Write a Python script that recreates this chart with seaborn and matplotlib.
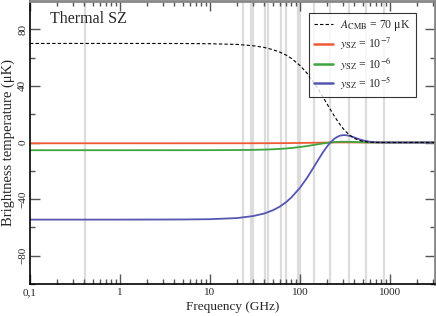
import matplotlib

matplotlib.use("Agg")

import matplotlib.pyplot as plt  # noqa: E402
import pandas as pd  # noqa: E402
import seaborn as sns  # noqa: E402
from matplotlib.lines import Line2D  # noqa: E402
from matplotlib.ticker import FixedLocator, LogLocator, NullFormatter  # noqa: E402

# values (brightness temperature in uK)
FREQ_GHZ = [0.1, 1, 5, 10, 20, 30, 40, 50, 60, 70, 80, 100, 120, 140, 160, 180,
            200, 217, 240, 260, 280, 300, 320, 350, 400, 450, 500, 600, 700, 800,
            1000, 1500, 3162]
CMB_70UK = [70.0, 70.0, 69.95, 69.8, 69.3, 68.4, 67.2, 65.6, 63.8, 61.8, 59.5, 54.4,
            48.9, 43.2, 37.6, 32.2, 27.2, 23.4, 18.8, 15.4, 12.5, 10.0, 8.0, 5.6,
            3.0, 1.6, 0.8, 0.2, 0.05, 0.01, 0.0, 0.0, 0.0]
SZ_1E5 = [-54.5, -54.5, -54.4, -54.2, -53.4, -52.0, -50.2, -47.9, -45.2, -42.2, -38.9,
          -32.0, -24.9, -18.1, -12.1, -6.9, -2.8, -0.1, 2.6, 4.0, 4.9, 5.2, 5.2, 4.8,
          3.6, 2.4, 1.5, 0.5, 0.15, 0.04, 0.0, 0.0, 0.0]
SZ_1E6 = [-5.45, -5.45, -5.44, -5.42, -5.34, -5.20, -5.02, -4.79, -4.52, -4.22, -3.89,
          -3.20, -2.49, -1.81, -1.21, -0.69, -0.28, -0.01, 0.26, 0.40, 0.49, 0.52,
          0.52, 0.48, 0.36, 0.24, 0.15, 0.05, 0.015, 0.004, 0.0, 0.0, 0.0]
SZ_1E7 = [-0.545, -0.545, -0.544, -0.542, -0.534, -0.520, -0.502, -0.479, -0.452,
          -0.422, -0.389, -0.320, -0.249, -0.181, -0.121, -0.069, -0.028, -0.001,
          0.026, 0.040, 0.049, 0.052, 0.052, 0.048, 0.036, 0.024, 0.015, 0.005,
          0.002, 0.0, 0.0, 0.0, 0.0]

SZ_LABELS = [r"$y_{\rm SZ}$ = 10$^{-7}$", r"$y_{\rm SZ}$ = 10$^{-6}$",
             r"$y_{\rm SZ}$ = 10$^{-5}$"]
CMB_LABEL = r"$A_{\rm CMB}$ = 70 μK"
SZ_COLORS = ["#ee5a36", "#3ea43e", "#5656b2"]

SURVEY_FREQS = [0.408, 23, 28.4, 30, 41, 44, 61, 70, 94, 100, 143, 217, 353, 545, 857]
X_TICKS = [0.1, 1, 10, 100, 1000]
X_TICK_LABELS = ["0,1", "1", "10", "100", "1000"]
Y_TICKS = [-80, -40, 0, 40, 80]
Y_MINOR = [-100, -60, -20, 20, 60, 100]

sns.set_style("ticks")
plt.rcParams["font.family"] = ["Liberation Serif", "DejaVu Serif"]
plt.rcParams["mathtext.fontset"] = "stix"

fig = plt.figure(figsize=(4.36, 3.16), dpi=100)
ax = fig.add_axes([30 / 436, 32 / 316, 405 / 436, 283 / 316])

for f in SURVEY_FREQS:
    ax.axvline(f, color="#dcdcdc", lw=1.6, zorder=0)

sz = pd.DataFrame({
    "freq": FREQ_GHZ * 3,
    "temp": SZ_1E7 + SZ_1E6 + SZ_1E5,
    "label": [lab for lab in SZ_LABELS for _ in FREQ_GHZ],
})
sns.lineplot(data=sz, x="freq", y="temp", hue="label", hue_order=SZ_LABELS,
             palette=SZ_COLORS, lw=1.3, legend=False, ax=ax)
sns.lineplot(x=FREQ_GHZ, y=CMB_70UK, color="black", lw=0.8,
             linestyle=(0, (3, 2)), ax=ax)

ax.set_xscale("log")
ax.set_xlim(0.1, 10 ** 3.5)
ax.set_ylim(-100, 100)

ax.xaxis.set_major_locator(FixedLocator(X_TICKS))
ax.set_xticklabels(X_TICK_LABELS)
ax.xaxis.set_minor_locator(LogLocator(base=10, subs=range(2, 10)))
ax.xaxis.set_minor_formatter(NullFormatter())
ax.set_yticks(Y_TICKS)
ax.yaxis.set_minor_locator(FixedLocator(Y_MINOR))

ax.tick_params(which="both", direction="in", top=True, right=True,
               color="#555555", labelsize=8, pad=3)
ax.tick_params(axis="y", pad=2)
ax.tick_params(which="major", length=7, width=1)
ax.tick_params(which="minor", length=3.5, width=1)
for lab in ax.get_yticklabels():
    lab.set_rotation(90)
    lab.set_va("center")

for side in ["left", "bottom"]:
    ax.spines[side].set_color("black")
    ax.spines[side].set_linewidth(1.2)
for side in ["top", "right"]:
    ax.spines[side].set_color("#888888")
    ax.spines[side].set_linewidth(2)

ax.set_xlabel("Frequency (GHz)", fontsize=9.5, labelpad=3)
ax.set_ylabel("Brightness temperature (μK)", fontsize=10.5)
ax.yaxis.set_label_coords(-22 / 405, 0.5)
ax.yaxis.label.set_va("center")

ax.text(0.05, 0.965, "Thermal SZ", transform=ax.transAxes, fontsize=11.5, va="top")

handles = [Line2D([], [], color="black", lw=0.8, linestyle=(0, (3, 2)))]
handles += [Line2D([], [], color=c, lw=1.8) for c in SZ_COLORS]
leg = ax.legend(handles, [CMB_LABEL] + SZ_LABELS, loc="upper left",
                bbox_to_anchor=(0.689, 0.958), fontsize=8.5, frameon=True,
                fancybox=False, handlelength=1.6, labelspacing=0.22,
                borderpad=0.45, handletextpad=0.6, borderaxespad=0)
leg.get_frame().set_edgecolor("black")
leg.get_frame().set_linewidth(0.8)

fig.savefig("out.png", dpi=100)
